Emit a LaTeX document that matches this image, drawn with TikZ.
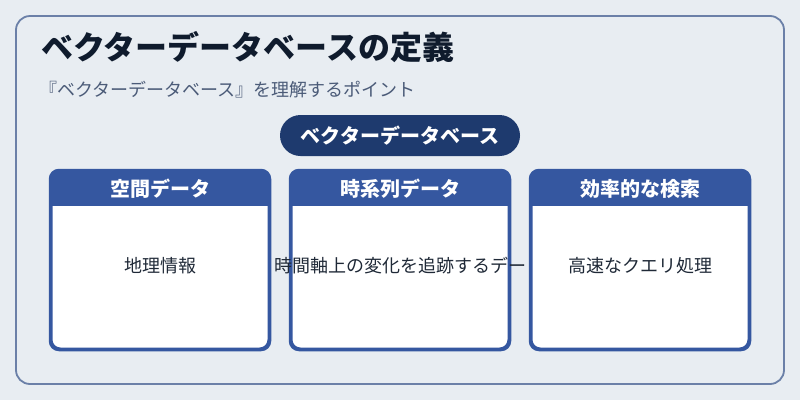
\documentclass[tikz,border=0pt]{standalone}
\usepackage{fontspec}
\setmainfont{Noto Sans CJK JP}
\definecolor{bgc}{HTML}{E8EDF2}
\definecolor{framec}{HTML}{6B80A8}
\definecolor{titlec}{HTML}{0F1B2D}
\definecolor{subc}{HTML}{4B5B78}
\definecolor{pillc}{HTML}{1E3A6E}
\definecolor{cardc}{HTML}{3557A0}
\definecolor{bodyc}{HTML}{1F2937}
\tikzset{
  cardbox/.style={draw=cardc, line width=2.5pt, fill=white, rounded corners=9pt,
    minimum width=217.5pt, minimum height=177.5pt, inner sep=0pt},
  headtext/.style={anchor=base, text=white, inner sep=0pt, font=\bfseries\fontsize{20}{24}\selectfont},
  bodytext/.style={anchor=base, text=bodyc, inner sep=0pt, font=\fontsize{18}{22}\selectfont},
}
\begin{document}
\begin{tikzpicture}[x=1pt,y=-1pt]
\useasboundingbox (0,0) rectangle (800,400);
\fill[bgc] (0,0) rectangle (800,400);
\draw[framec, line width=1.8pt, rounded corners=14pt] (16,16) rectangle (784,384);
\node[anchor=base west, inner sep=0pt, text=titlec, font=\bfseries\fontsize{32}{38}\selectfont] (title) at (41,59) {ベクターデータベースの定義};
\node[anchor=base west, inner sep=0pt, text=subc, font=\fontsize{18}{22}\selectfont] (sub) at (39,96) {『ベクターデータベース』を理解するポイント};
\node[fill=pillc, rounded corners=20.5pt, minimum width=240pt, minimum height=41pt, inner sep=0pt] (pill) at (400,135.5) {};
\node[anchor=base, text=white, inner sep=0pt, font=\bfseries\fontsize{20}{24}\selectfont] (pilltext) at (400,143) {ベクターデータベース};
\foreach \cx/\nm/\head/\body in {160/a/空間データ/地理情報, 400/b/時系列データ/時間軸上の変化を追跡するデー, 640/c/効率的な検索/高速なクエリ処理}{
  \node[cardbox] (card\nm) at (\cx,260) {};
  \begin{scope}
    \clip[rounded corners=9pt] (card\nm.north west) rectangle (card\nm.south east);
    \fill[cardc] (card\nm.north west) rectangle ([yshift=-35.5pt]card\nm.north east);
  \end{scope}
  \draw[cardc, line width=2.5pt, rounded corners=9pt] (card\nm.north west) rectangle (card\nm.south east);
  \node[headtext] (head\nm) at (\cx,196) {\head};
  \node[bodytext] (body\nm) at (\cx,272) {\body};
}
\end{tikzpicture}
\end{document}
